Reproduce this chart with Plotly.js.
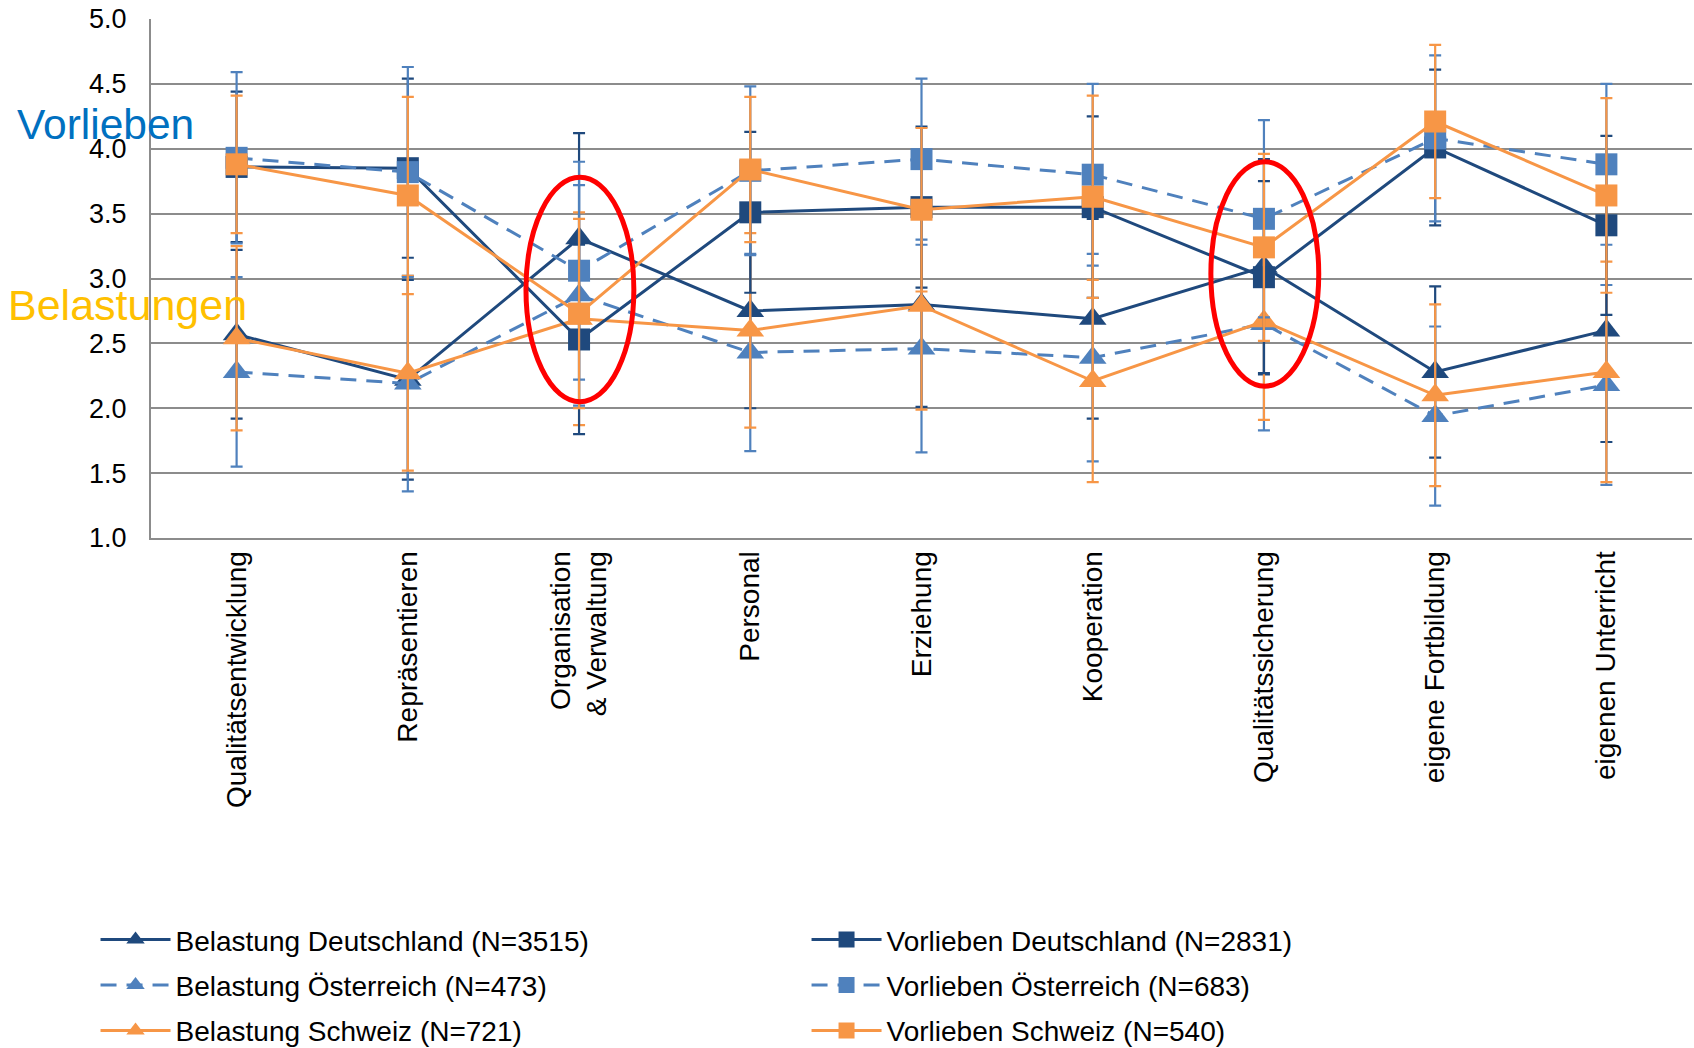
<!DOCTYPE html>
<html>
<head>
<meta charset="utf-8">
<script src="https://cdn.plot.ly/plotly-3.0.1.min.js"></script>
<style>
  html, body { margin: 0; padding: 0; background: #fff; }
  #chart { width: 1694px; height: 1048px; }
</style>
</head>
<body>
<div id="chart"></div>
<script>
// ---- Data ----
const categories = [
  'Qualitätsentwicklung', 'Repräsentieren', 'Organisation<br>& Verwaltung',
  'Personal', 'Erziehung', 'Kooperation', 'Qualitätssicherung',
  'eigene Fortbildung', 'eigenen Unterricht'
];

const belastungD      = [2.57, 2.22, 3.31, 2.75, 2.80, 2.69, 3.09, 2.28, 2.60];
const belastungD_sd   = [0.65, 0.77, 0.81, 0.75, 0.79, 0.77, 0.83, 0.66, 0.86];
const belastungA      = [2.28, 2.19, 2.87, 2.43, 2.46, 2.39, 2.65, 1.94, 2.18];
const belastungA_sd   = [0.73, 0.83, 0.85, 0.76, 0.80, 0.80, 0.82, 0.69, 0.77];
const belastungCH     = [2.54, 2.27, 2.69, 2.60, 2.79, 2.21, 2.67, 2.10, 2.28];
const belastungCH_sd  = [0.71, 0.75, 0.82, 0.75, 0.80, 0.78, 0.76, 0.70, 0.85];

const vorliebenD      = [3.86, 3.85, 2.53, 3.51, 3.55, 3.55, 3.01, 4.01, 3.41];
const vorliebenD_sd   = [0.58, 0.69, 0.73, 0.62, 0.62, 0.70, 0.74, 0.60, 0.69];
const vorliebenA      = [3.93, 3.82, 3.06, 3.83, 3.92, 3.80, 3.46, 4.08, 3.88];
const vorliebenA_sd   = [0.66, 0.81, 0.84, 0.65, 0.62, 0.70, 0.76, 0.64, 0.62];
const vorliebenCH     = [3.88, 3.64, 2.73, 3.84, 3.53, 3.63, 3.24, 4.21, 3.64];
const vorliebenCH_sd  = [0.53, 0.76, 0.73, 0.56, 0.63, 0.78, 0.72, 0.59, 0.75];

const seriesNames = [
  'Belastung Deutschland (N=3515)', 'Vorlieben Deutschland (N=2831)',
  'Belastung Österreich (N=473)',   'Vorlieben Österreich (N=683)',
  'Belastung Schweiz (N=721)',      'Vorlieben Schweiz (N=540)'
];

// highlighted categories (red ellipses): category index, y-low, y-high
const highlightCat  = [2, 6];
const highlightLow  = [2.05, 2.17];
const highlightHigh = [3.78, 3.90];

const yTicks = [1.0, 1.5, 2.0, 2.5, 3.0, 3.5, 4.0, 4.5, 5.0];

// ---- Styles ----
const DARK = '#1F497D', LIGHT = '#4F81BD', ORANGE = '#F79646';
const FONT = 'Arial, "Liberation Sans", sans-serif';

function mk(name, y, sd, color, symbol, dash, legendId, group) {
  return {
    type: 'scatter', mode: 'lines+markers',
    x: categories, y: y, name: name, legend: legendId, legendgroup: group,
    line: { color: color, width: 3, dash: dash },
    marker: { color: color, symbol: symbol, size: symbol === 'square' ? 22 : 24,
              line: { width: 0 } },
    error_y: { type: 'data', array: sd, visible: true, color: color,
               thickness: 2.2, width: 6 },
    cliponaxis: false
  };
}

const traces = [
  mk(seriesNames[0], belastungD,  belastungD_sd,  DARK,   'triangle-up', 'solid',     'legend',  'g1'),
  mk(seriesNames[2], belastungA,  belastungA_sd,  LIGHT,  'triangle-up', '16px,10px', 'legend',  'g2'),
  mk(seriesNames[4], belastungCH, belastungCH_sd, ORANGE, 'triangle-up', 'solid',     'legend',  'g3'),
  mk(seriesNames[1], vorliebenD,  vorliebenD_sd,  DARK,   'square',      'solid',     'legend2', 'g4'),
  mk(seriesNames[3], vorliebenA,  vorliebenA_sd,  LIGHT,  'square',      '16px,10px', 'legend2', 'g5'),
  mk(seriesNames[5], vorliebenCH, vorliebenCH_sd, ORANGE, 'square',      'solid',     'legend2', 'g6')
];

const shapes = highlightCat.map((c, i) => ({
  type: 'circle', xref: 'x', yref: 'y',
  x0: c - 0.31, x1: c + 0.32, y0: highlightLow[i], y1: highlightHigh[i],
  line: { color: '#FF0000', width: 5 }, layer: 'above'
}));

const legendBase = {
  orientation: 'v', xanchor: 'left', yref: 'container', y: 0.127, yanchor: 'top',
  itemwidth: 70, traceorder: 'grouped', tracegroupgap: 6,
  font: { family: FONT, size: 28, color: '#000' },
  bgcolor: 'rgba(0,0,0,0)'
};

const layout = {
  width: 1694, height: 1048,
  margin: { l: 151, r: 2, t: 19, b: 510, autoexpand: false },
  paper_bgcolor: '#fff', plot_bgcolor: '#fff',
  font: { family: FONT, size: 27, color: '#000' },
  showlegend: true,
  legend:  Object.assign({}, legendBase, { x: -0.036 }),
  legend2: Object.assign({}, legendBase, { x: 0.4254 }),
  xaxis: {
    type: 'category', range: [-0.5, 8.5], tickangle: -90,
    showgrid: false, showline: true, linecolor: '#8C8C8C', linewidth: 2,
    ticks: '', tickfont: { family: FONT, size: 28, color: '#000' },
    ticklabelstandoff: 0, zeroline: false, fixedrange: true, automargin: false
  },
  yaxis: {
    range: [1, 5], tickvals: yTicks, tickformat: '.1f',
    showgrid: true, gridcolor: '#8C8C8C', gridwidth: 2,
    showline: true, linecolor: '#8C8C8C', linewidth: 2,
    ticks: '', ticklabelstandoff: 17, zeroline: false, automargin: false,
    tickfont: { family: FONT, size: 27, color: '#000' }, fixedrange: true
  },
  shapes: shapes,
  annotations: [
    { text: 'Vorlieben', xref: 'paper', yref: 'paper', x: -0.088, y: 0.797,
      xanchor: 'left', yanchor: 'middle', showarrow: false,
      font: { family: FONT, size: 42.5, color: '#0070C0' } },
    { text: 'Belastungen', xref: 'paper', yref: 'paper', x: -0.094, y: 0.448,
      xanchor: 'left', yanchor: 'middle', showarrow: false,
      font: { family: FONT, size: 43, color: '#FFC000' } }
  ]
};

Plotly.newPlot('chart', traces, layout, { displayModeBar: false, staticPlot: true });
</script>
</body>
</html>
